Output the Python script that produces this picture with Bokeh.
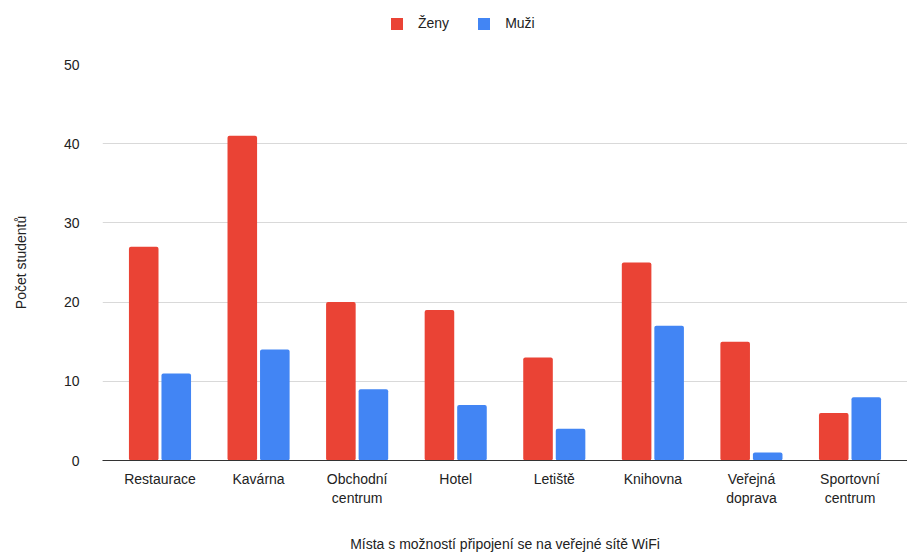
from bokeh.plotting import figure
from bokeh.layouts import column
from bokeh.models import ColumnDataSource, FactorRange, Legend, LegendItem, Range1d, FixedTicker
from bokeh.transform import dodge
from bokeh.embed import file_html
from bokeh.resources import INLINE

places = ["Restaurace", "Kavárna", "Obchodní\ncentrum", "Hotel", "Letiště",
          "Knihovna", "Veřejná\ndoprava", "Sportovní\ncentrum"]
zeny = [27, 41, 20, 19, 13, 25, 15, 6]
muzi = [11, 14, 9, 7, 4, 17, 1, 8]
y_ticks = [0, 10, 20, 30, 40, 50]

RED = "#EA4335"
BLUE = "#4285F4"
FONT = "Liberation Sans"
TEXT = "#222222"

source = ColumnDataSource(data=dict(place=places, zeny=zeny, muzi=muzi))

p = figure(
    width=907, height=504,
    x_range=FactorRange(*places, range_padding=0.0208),
    y_range=Range1d(0, 50),
    output_backend="svg", toolbar_location=None,
    min_border_left=102, min_border_right=0, min_border_bottom=93, min_border_top=14,
)
p.outline_line_color = None
p.background_fill_color = "white"
p.border_fill_color = "white"

p.vbar(x=dodge("place", -0.165, range=p.x_range), top="zeny", width=0.3,
       source=source, color=RED, line_color=None, border_radius=2)
p.vbar(x=dodge("place", 0.165, range=p.x_range), top="muzi", width=0.3,
       source=source, color=BLUE, line_color=None, border_radius=2)

# grid
p.xgrid.grid_line_color = None
p.ygrid.grid_line_color = "#d9d9d9"
p.ygrid.grid_line_width = 1
p.yaxis.ticker = FixedTicker(ticks=y_ticks)

# y axis
p.yaxis.axis_line_color = None
p.yaxis.major_tick_line_color = None
p.yaxis.minor_tick_line_color = None
p.yaxis.major_label_text_font = FONT
p.yaxis.major_label_text_font_size = "14px"
p.yaxis.major_label_text_color = TEXT
p.yaxis.major_label_standoff = 17
p.yaxis.axis_label = "Počet studentů"
p.yaxis.axis_label_text_font = FONT
p.yaxis.axis_label_text_font_size = "14px"
p.yaxis.axis_label_text_font_style = "normal"
p.yaxis.axis_label_text_color = TEXT
p.yaxis.axis_label_standoff = 32

# x axis
p.xaxis.axis_line_color = "#333333"
p.xaxis.axis_line_width = 1
p.xaxis.major_tick_line_color = None
p.xaxis.minor_tick_line_color = None
p.xaxis.major_label_text_font = FONT
p.xaxis.major_label_text_font_size = "14px"
p.xaxis.major_label_text_color = TEXT
p.xaxis.major_label_standoff = 4
p.xaxis.axis_label = "Místa s možností připojení se na veřejné sítě WiFi"
p.xaxis.axis_label_text_font = FONT
p.xaxis.axis_label_text_font_size = "14px"
p.xaxis.axis_label_text_font_style = "normal"
p.xaxis.axis_label_text_color = TEXT
p.xaxis.axis_label_standoff = 27

# legend strip across the top; its two swatch renderers sit outside the view
top = figure(
    width=907, height=50, output_backend="svg", toolbar_location=None,
    x_range=Range1d(0, 1), y_range=Range1d(0, 1),
    x_axis_location=None, y_axis_location=None,
    min_border=0,
)
top.grid.visible = False
top.outline_line_color = None
swatch = ColumnDataSource(data=dict(x=[5], top=[5]))
lz = top.vbar(x="x", top="top", width=0.1, source=swatch, color=RED, line_color=None)
lm = top.vbar(x="x", top="top", width=0.1, source=swatch, color=BLUE, line_color=None)
legend = Legend(
    items=[LegendItem(label="Ženy", renderers=[lz]),
           LegendItem(label="Muži", renderers=[lm])],
    orientation="horizontal", location=(287, 19),
    label_text_font=FONT, label_text_font_size="14px", label_text_color=TEXT,
    glyph_width=15, glyph_height=15, spacing=27, label_standoff=14,
    border_line_color=None, background_fill_alpha=0,
    margin=0, padding=6,
)
top.add_layout(legend, "center")

layout = column(top, p, spacing=0)
open("out.html", "w").write(file_html(layout, INLINE))
